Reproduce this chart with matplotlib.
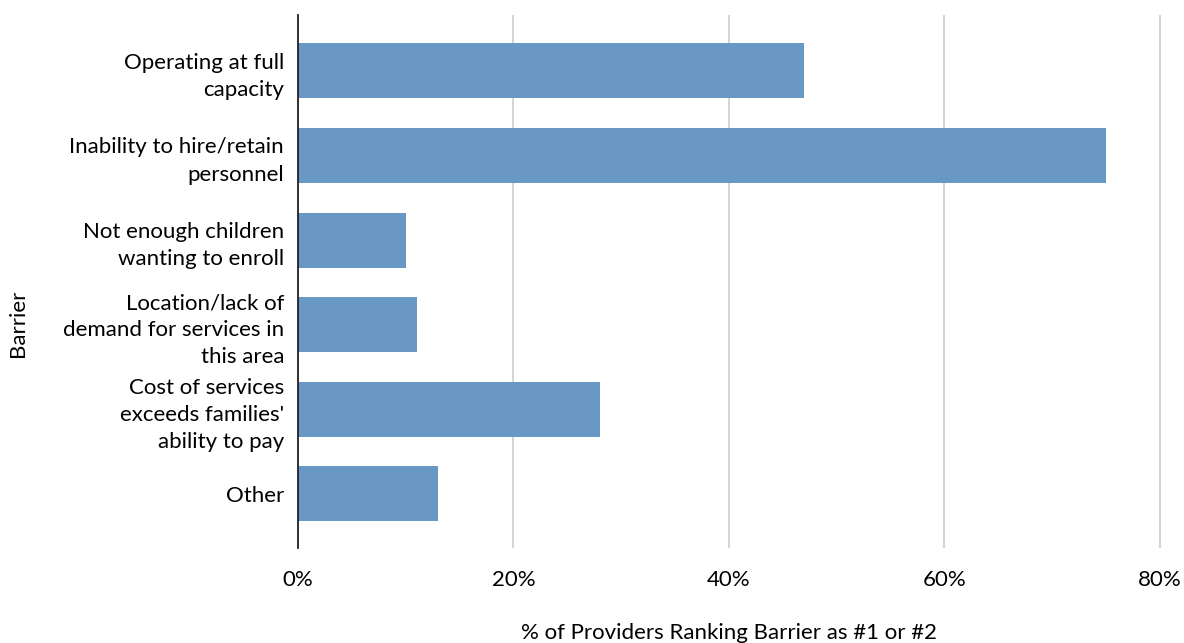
import matplotlib
matplotlib.use("Agg")
import matplotlib.pyplot as plt

categories = [
    "Operating at full\ncapacity",
    "Inability to hire/retain\npersonnel",
    "Not enough children\nwanting to enroll",
    "Location/lack of\ndemand for services in\nthis area",
    "Cost of services\nexceeds families'\nability to pay",
    "Other",
]
values = [47, 75, 10, 11, 28, 13]
xticks = [0, 20, 40, 60, 80]
xtick_labels = ["0%", "20%", "40%", "60%", "80%"]

plt.rcParams['font.family'] = ['Lato', 'DejaVu Sans']

fig = plt.figure(figsize=(11.84, 6.43), dpi=100)
ax = fig.add_axes([298/1184, 1-548/643, (1161-298)/1184, (548-15)/643])

ypos = list(range(len(categories)))
ax.barh(ypos, values, height=0.65, color="#6a98c4", zorder=3)
ax.set_ylim(len(categories) - 1 + 0.64, -0.66)
ax.set_xlim(0, 80.1)

ax.set_yticks(ypos)
ax.set_yticklabels(categories, fontsize=16, linespacing=1.45, ha='right')
ax.set_xticks(xticks)
ax.set_xticklabels(xtick_labels, fontsize=16)
ax.tick_params(axis='y', length=0, pad=10)
ax.tick_params(axis='x', length=0, pad=16)

ax.grid(axis='x', color="#d0d0d0", linewidth=1.3, zorder=0)
for s in ['top', 'right', 'bottom']:
    ax.spines[s].set_visible(False)
ax.spines['left'].set_color('#222222')
ax.spines['left'].set_linewidth(1.3)
ax.spines['left'].set_zorder(4)

fig.text(729/1184, 1-633/643, "% of Providers Ranking Barrier as #1 or #2", fontsize=16,
         ha='center', va='center')
fig.text(18/1184, 1-323/643, "Barrier", rotation=90, fontsize=16, ha='center', va='center')

fig.savefig("out.png", dpi=100)
